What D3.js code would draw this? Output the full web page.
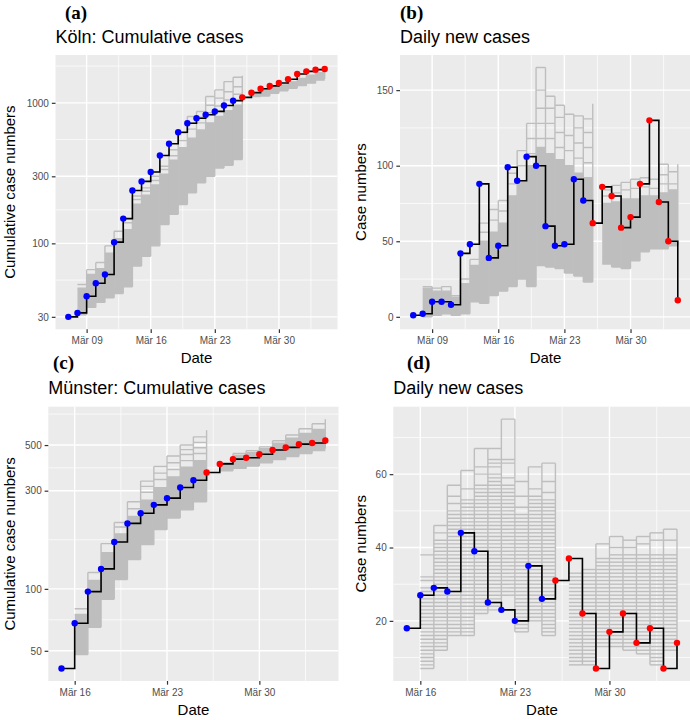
<!DOCTYPE html>
<html><head><meta charset="utf-8">
<script src="https://cdn.jsdelivr.net/npm/d3@7"></script>
<style>body{margin:0;background:#fff} svg{display:block}</style>
</head><body>
<svg id="chart" width="690" height="720"></svg>
<script>
// ---------------- DATA ----------------
const kolnStart = "2020-03-07";
const kolnCumulative = [30, 32, 42, 52, 60, 102, 150, 238, 276, 322, 422, 512, 617, 716, 776, 822, 869, 958, 1036, 1094, 1182, 1260, 1320, 1385, 1470, 1605, 1675, 1722, 1742];
const kolnDaily = [1, 2, 10, 10, 8, 42, 48, 88, 39, 47, 99, 90, 106, 100, 60, 47, 48, 91, 77, 62, 86, 80, 59, 66, 88, 130, 76, 50, 11];
const munsterStart = "2020-03-15";
const munsterCumulative = [41, 68, 97, 125, 169, 208, 233, 256, 276, 311, 337, 368, 405, 427, 434, 451, 473, 487, 505, 512, 526];
const munsterDaily = [18, 27, 29, 28, 44, 39, 25, 23, 20, 35, 26, 31, 37, 22, 7, 17, 22, 14, 18, 7, 14];
const lastFitDate = "2020-03-25";

const kolnDateTicks = ["2020-03-09", "2020-03-16", "2020-03-23", "2020-03-30"];
const munsterDateTicks = ["2020-03-16", "2020-03-23", "2020-03-30"];
const kolnCumTicks = [30, 100, 300, 1000];
const kolnDailyTicks = [0, 50, 100, 150];
const munsterCumTicks = [50, 100, 300, 500];
const munsterDailyTicks = [20, 40, 60];

// Simulated trajectories, summarised per day: lowest line, top of dense core, extra visible lines above
const kolnFitStart = "2020-03-08";
const munsterFitStart = "2020-03-16";
const forecastStart = "2020-03-27";

const kolnCumFitLo = [31, 35, 38, 41, 44, 49, 69, 81, 96, 136, 161, 189, 229, 270, 300, 344, 360, 395];
const kolnCumFitCore = [48, 60, 66, 85, 108, 125, 190, 220, 260, 310, 390, 480, 560, 640, 720, 800, 880, 960];
const kolnCumFitTails = [[51], [65], [73], [96], [122], [140], [205, 217], [235, 248], [280, 300], [335, 354], [420, 464], [540, 609], [650, 720, 800], [720, 790, 868], [850, 960, 1108], [950, 1080, 1236], [1050, 1200, 1416], [1150, 1300, 1520]];
const kolnCumFitEnd = [395, 1560];
const kolnCumFcLo = [1110, 1118, 1170, 1220, 1270, 1325, 1380, 1450];
const kolnCumFcCore = [1180, 1240, 1290, 1340, 1410, 1490, 1570, 1640];
const kolnCumFcTails = [[], [], [], [], [], [], [], []];
const kolnCumFcEnd = [1480, 1785];

const kolnDailyFitLo = [0, 1, 2, 1, 2, 10, 9, 14, 17, 20, 25, 20, 34, 33, 32, 29, 27, 23];
const kolnDailyFitCore = [19, 17, 17, 13, 22, 34, 50, 56, 62, 80, 90, 100, 112, 108, 104, 100, 95, 92];
const kolnDailyFitTails = [[20], [19], [20], [14], [25], [38], [56, 62], [64, 71], [70, 77], [88, 95], [100, 110], [108, 118, 128], [118, 128, 138, 150, 165], [118, 128, 138, 146], [112, 122, 132, 140], [110, 120, 134], [105, 115, 125, 133], [102, 112, 122, 131]];
const kolnDailyFitEnd = [23, 141];
const kolnDailyFcLo = [35, 33, 32, 37, 43, 45, 45, 47];
const kolnDailyFcCore = [75, 76, 78, 78, 80, 80, 82, 84];
const kolnDailyFcTails = [[80, 84], [82, 87], [84, 89], [85, 91], [86, 92], [85, 91], [88, 94, 101], [88, 96]];
const kolnDailyFcEnd = [47, 101];

const munsterCumFitLo = [48, 65, 89, 111, 139, 164, 194, 221, 242, 265];
const munsterCumFitCore = [75, 110, 150, 185, 225, 270, 310, 350, 390, 420];
const munsterCumFitTails = [[80], [120], [166], [200, 210], [245, 265], [295, 315, 334], [340, 365, 393], [380, 410, 442], [420, 450, 475, 500], [455, 485, 515, 548]];
const munsterCumFitEnd = [265, 590];
const munsterCumFcLo = [375, 385, 395, 410, 425, 440, 455, 470];
const munsterCumFcCore = [410, 445, 460, 480, 510, 540, 570, 595];
const munsterCumFcTails = [[], [455], [470], [490], [525], [560], [600], [635]];
const munsterCumFcEnd = [480, 668];

const munsterDailyFitLo = [7, 12, 16, 16, 22, 23, 27, 17, 20, 16];
const munsterDailyFitCore = [29, 42, 50, 53, 57, 60, 57, 49, 54, 53];
const munsterDailyFitTails = [[31, 32, 38], [44, 46], [52, 54, 57], [56, 61], [60, 62, 67], [62, 63, 64, 67], [59, 63, 64, 75], [51, 54, 58], [56, 62], [55, 58, 63]];
const munsterDailyFitEnd = [16, 63];
const munsterDailyFcLo = [8, 8, 13, 13, 12, 11, 8, 12];
const munsterDailyFcCore = [33, 34, 37, 38, 38, 38, 38, 38];
const munsterDailyFcTails = [[], [], [41], [40, 43], [40, 42], [41, 43], [42, 44], [42, 45]];
const munsterDailyFcEnd = [12, 45];

// ---------------- DRAWING ----------------
const FONT = "'Liberation Sans', Arial, Helvetica, sans-serif";
const SERIF = "'Liberation Serif', 'Times New Roman', serif";
const svg = d3.select("#chart");
const parse = d3.utcParse("%Y-%m-%d");
const de = d3.timeFormatLocale({
  dateTime: "%A, %e. %B %Y, %X", date: "%d.%m.%Y", time: "%H:%M:%S", periods: ["AM", "PM"],
  days: ["Sonntag", "Montag", "Dienstag", "Mittwoch", "Donnerstag", "Freitag", "Samstag"],
  shortDays: ["So", "Mo", "Di", "Mi", "Do", "Fr", "Sa"],
  months: ["Januar", "Februar", "März", "April", "Mai", "Juni", "Juli", "August", "September", "Oktober", "November", "Dezember"],
  shortMonths: ["Jan", "Feb", "Mär", "Apr", "Mai", "Jun", "Jul", "Aug", "Sep", "Okt", "Nov", "Dez"]
});
const fmtDate = de.utcFormat("%b %d");
const SIM = "#BEBEBE";

function minorBreaks(major, lim) {
  let b = major.slice().sort((a, c) => a - c);
  const bd = b[1] - b[0];
  if (lim[0] < b[0]) b = [b[0] - bd, ...b];
  if (lim[1] > b[b.length - 1]) b = [...b, b[b.length - 1] + bd];
  const m = [];
  for (let i = 0; i < b.length - 1; i++) m.push((b[i] + b[i + 1]) / 2);
  return m.filter(v => v > lim[0] && v < lim[1]);
}

function sim(start, lo, core, tails, end) { return {start, lo, core, tails, end}; }

function drawPanel(p) {
  const {left, right, top, bottom} = p.box;
  const g = svg.append("g");
  const start = parse(p.start);
  const obs = p.values.map((v, i) => ({date: d3.utcDay.offset(start, i), v}));
  const lastFit = parse(lastFitDate);
  const groups = p.sims.map(s => {
    const s0 = parse(s.start);
    const days = s.lo.map((lo, i) => ({
      d0: d3.utcDay.offset(s0, i), d1: d3.utcDay.offset(s0, i + 1),
      lo, core: s.core[i], tails: s.tails[i], hi: d3.max([s.core[i], ...s.tails[i]])
    }));
    return {days, end: s.end};
  });
  const xs = [obs[0].date, obs[obs.length - 1].date, ...groups.flatMap(gr => [gr.days[0].d0, gr.days[gr.days.length - 1].d1])];
  const [xa, xb] = d3.extent(xs);
  const xpad = (xb - xa) * 0.05;
  const x = d3.scaleUtc().domain([new Date(+xa - xpad), new Date(+xb + xpad)]).range([left, right]);
  const ys = [...p.values, ...groups.flatMap(gr => [...gr.days.flatMap(d => [d.lo, d.hi]), ...gr.end])];
  let y, tf, inv;
  if (p.log) {
    const [la, lb] = d3.extent(ys).map(Math.log10);
    const pad = (lb - la) * 0.05;
    y = d3.scaleLog().domain([10 ** (la - pad), 10 ** (lb + pad)]).range([bottom, top]);
    tf = Math.log10; inv = t => 10 ** t;
  } else {
    const [a, b] = d3.extent(ys);
    const pad = (b - a) * 0.05;
    y = d3.scaleLinear().domain([a - pad, b + pad]).range([bottom, top]);
    tf = v => v; inv = t => t;
  }

  g.append("rect").attr("x", left).attr("y", top).attr("width", right - left).attr("height", bottom - top).attr("fill", "#EBEBEB");
  const clipId = "clip-" + p.id;
  svg.append("defs").append("clipPath").attr("id", clipId).append("rect")
    .attr("x", left).attr("y", top).attr("width", right - left).attr("height", bottom - top);
  const plot = g.append("g").attr("clip-path", `url(#${clipId})`);

  // grid
  const xTickDates = p.xTicks.map(parse);
  const xLim = x.domain().map(Number);
  const yLim = y.domain().map(tf);
  const xMinor = minorBreaks(xTickDates.map(Number), xLim);
  const yMinor = minorBreaks(p.yTicks.map(tf), yLim);
  plot.selectAll(".xminor").data(xMinor).join("line").attr("x1", d => x(new Date(d))).attr("x2", d => x(new Date(d)))
    .attr("y1", top).attr("y2", bottom).attr("stroke", "#fff").attr("stroke-width", 0.7);
  plot.selectAll(".yminor").data(yMinor).join("line").attr("y1", d => y(inv(d))).attr("y2", d => y(inv(d)))
    .attr("x1", left).attr("x2", right).attr("stroke", "#fff").attr("stroke-width", 0.7);
  plot.selectAll(".xmajor").data(xTickDates).join("line").attr("x1", d => x(d)).attr("x2", d => x(d))
    .attr("y1", top).attr("y2", bottom).attr("stroke", "#fff").attr("stroke-width", 1.4);
  plot.selectAll(".ymajor").data(p.yTicks).join("line").attr("y1", d => y(d)).attr("y2", d => y(d))
    .attr("x1", left).attr("x2", right).attr("stroke", "#fff").attr("stroke-width", 1.4);

  // simulated trajectories
  const simG = plot.append("g").attr("stroke", SIM).attr("stroke-width", 1.4).attr("fill", "none");
  groups.forEach(gr => {
    gr.days.forEach((d, i) => {
      const xa = x(d.d0), xb = x(d.d1);
      let levels;
      if (p.coreStyle === "fill") {
        simG.append("rect").attr("x", xa).attr("width", xb - xa).attr("y", y(d.core))
          .attr("height", y(d.lo) - y(d.core)).attr("fill", SIM).attr("stroke", "none");
        levels = [d.lo, d.core, ...d.tails];
      } else {
        levels = [...d3.range(Math.ceil(d.lo), Math.floor(d.core) + 1), ...d.tails];
      }
      levels.forEach(v => simG.append("line").attr("x1", xa).attr("x2", xb).attr("y1", y(v)).attr("y2", y(v)));
      const next = gr.days[i + 1];
      const vLo = next ? Math.min(d.lo, next.lo) : gr.end[0];
      const vHi = next ? Math.max(d.hi, next.hi) : gr.end[1];
      simG.append("line").attr("x1", xb).attr("x2", xb).attr("y1", y(vLo)).attr("y2", y(vHi));
    });
  });

  // observed step line and points
  const line = d3.line().x(d => x(d.date)).y(d => y(d.v)).curve(d3.curveStepAfter);
  plot.append("path").datum(obs).attr("d", line).attr("fill", "none").attr("stroke", "#000").attr("stroke-width", 1.6);
  plot.selectAll(".pt").data(obs).join("circle").attr("cx", d => x(d.date)).attr("cy", d => y(d.v)).attr("r", 3.2)
    .attr("fill", d => d.date <= lastFit ? "#0000FF" : "#FF0000");

  // axes
  const styleAxis = s => {
    s.select(".domain").remove();
    s.selectAll(".tick line").attr("stroke", "#333333").attr("stroke-width", 1.2);
    s.selectAll(".tick text").attr("fill", "#4D4D4D");
  };
  g.append("g").attr("transform", `translate(0,${bottom})`).attr("font-family", FONT).attr("font-size", 12)
    .call(d3.axisBottom(x).tickValues(xTickDates).tickFormat(fmtDate).tickSize(3.67).tickPadding(4.4)).call(styleAxis);
  g.append("g").attr("transform", `translate(${left},0)`).attr("font-family", FONT).attr("font-size", 12)
    .call(d3.axisLeft(y).tickValues(p.yTicks).tickFormat(d3.format("d")).tickSize(3.67).tickPadding(2.9)).call(styleAxis);

  // texts
  g.append("text").attr("x", (left + right) / 2).attr("y", bottom + 34).attr("text-anchor", "middle")
    .attr("font-family", FONT).attr("font-size", 15).text("Date");
  const cy = (top + bottom) / 2;
  g.append("text").attr("transform", `translate(${p.yTitleX},${cy}) rotate(-90)`).attr("text-anchor", "middle")
    .attr("font-family", FONT).attr("font-size", 15).text(p.yTitle);
  g.append("text").attr("x", left).attr("y", top - 12.4).attr("font-family", FONT).attr("font-size", 18).text(p.title);
  g.append("text").attr("x", p.tag[0]).attr("y", p.tag[1]).attr("font-family", SERIF).attr("font-weight", "bold")
    .attr("font-size", 19).text(p.tag[2]);
}

drawPanel({
  id: "a", box: {left: 55.5, right: 337.5, top: 55, bottom: 329.3}, log: true, coreStyle: "fill",
  start: kolnStart, values: kolnCumulative, xTicks: kolnDateTicks, yTicks: kolnCumTicks,
  sims: [sim(kolnFitStart, kolnCumFitLo, kolnCumFitCore, kolnCumFitTails, kolnCumFitEnd),
         sim(forecastStart, kolnCumFcLo, kolnCumFcCore, kolnCumFcTails, kolnCumFcEnd)],
  title: "Köln: Cumulative cases", yTitle: "Cumulative case numbers", yTitleX: 15, tag: [65, 18.5, "(a)"]
});
drawPanel({
  id: "b", box: {left: 400, right: 691, top: 55, bottom: 329.3}, log: false, coreStyle: "fill",
  start: kolnStart, values: kolnDaily, xTicks: kolnDateTicks, yTicks: kolnDailyTicks,
  sims: [sim(kolnFitStart, kolnDailyFitLo, kolnDailyFitCore, kolnDailyFitTails, kolnDailyFitEnd),
         sim(forecastStart, kolnDailyFcLo, kolnDailyFcCore, kolnDailyFcTails, kolnDailyFcEnd)],
  title: "Daily new cases", yTitle: "Case numbers", yTitleX: 365.5, tag: [400, 18.5, "(b)"]
});
drawPanel({
  id: "c", box: {left: 48.3, right: 338.5, top: 406.7, bottom: 681}, log: true, coreStyle: "fill",
  start: munsterStart, values: munsterCumulative, xTicks: munsterDateTicks, yTicks: munsterCumTicks,
  sims: [sim(munsterFitStart, munsterCumFitLo, munsterCumFitCore, munsterCumFitTails, munsterCumFitEnd),
         sim(forecastStart, munsterCumFcLo, munsterCumFcCore, munsterCumFcTails, munsterCumFcEnd)],
  title: "Münster: Cumulative cases", yTitle: "Cumulative case numbers", yTitleX: 15, tag: [53, 369, "(c)"]
});
drawPanel({
  id: "d", box: {left: 393.3, right: 690.5, top: 406.7, bottom: 681}, log: false, coreStyle: "lines",
  start: munsterStart, values: munsterDaily, xTicks: munsterDateTicks, yTicks: munsterDailyTicks,
  sims: [sim(munsterFitStart, munsterDailyFitLo, munsterDailyFitCore, munsterDailyFitTails, munsterDailyFitEnd),
         sim(forecastStart, munsterDailyFcLo, munsterDailyFcCore, munsterDailyFcTails, munsterDailyFcEnd)],
  title: "Daily new cases", yTitle: "Case numbers", yTitleX: 365.5, tag: [407, 369, "(d)"]
});
</script>
</body></html>
